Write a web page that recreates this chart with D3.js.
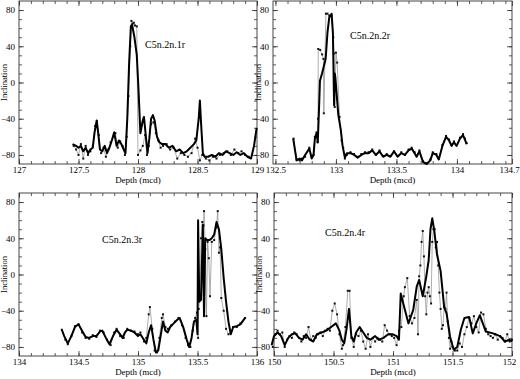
<!DOCTYPE html>
<html>
<head>
<meta charset="utf-8">
<script src="https://cdn.jsdelivr.net/npm/d3@7"></script>
<style>
  body { margin: 0; background: #fff; }
  text { font-family: "Liberation Serif", "Times New Roman", serif; fill: #000; }
</style>
</head>
<body>
<div class="chartContainer"></div>
<script>
// values: [depth (mcd), inclination]
var tlThick = [[127.45,-68],[127.48,-70],[127.50,-72],[127.52,-70],[127.54,-76],[127.56,-72],[127.58,-78],[127.60,-74],[127.62,-72],[127.635,-55],[127.653,-42],[127.665,-55],[127.68,-74],[127.70,-76],[127.72,-70],[127.74,-78],[127.76,-72],[127.78,-64],[127.80,-55],[127.82,-70],[127.84,-64],[127.86,-68],[127.88,-74],[127.895,-78],[127.91,-40],[127.925,20],[127.94,62],[127.95,64],[127.97,50],[127.99,30],[128.005,-10],[128.02,-56],[128.04,-42],[128.05,-38],[128.065,-58],[128.08,-78],[128.095,-62],[128.11,-40],[128.125,-36],[128.14,-42],[128.16,-60],[128.18,-66],[128.20,-68],[128.23,-68],[128.26,-72],[128.29,-70],[128.32,-76],[128.35,-74],[128.38,-78],[128.41,-76],[128.44,-72],[128.47,-68],[128.49,-64],[128.51,-40],[128.52,-20],[128.53,-45],[128.545,-78],[128.56,-82],[128.59,-82],[128.62,-80],[128.65,-82],[128.68,-78],[128.71,-80],[128.74,-76],[128.77,-78],[128.80,-80],[128.83,-77],[128.86,-80],[128.89,-78],[128.92,-82],[128.95,-84],[128.975,-70],[128.997,-50]];
var tlPoints = [[127.46,-70],[127.48,-74],[127.50,-80],[127.52,-68],[127.54,-84],[127.56,-70],[127.58,-80],[127.60,-76],[127.62,-70],[127.64,-48],[127.655,-43],[127.67,-58],[127.69,-78],[127.71,-72],[127.73,-82],[127.75,-74],[127.77,-66],[127.79,-60],[127.81,-56],[127.83,-72],[127.85,-65],[127.87,-70],[127.89,-80],[127.905,-60],[127.92,-15],[127.935,40],[127.945,68],[127.955,65],[127.965,66],[127.975,63],[127.99,62],[128.0,-80],[128.02,-75],[128.04,-70],[128.06,-58],[128.075,-80],[128.09,-70],[128.11,-46],[128.13,-44],[128.15,-56],[128.17,-64],[128.19,-72],[128.21,-70],[128.24,-68],[128.27,-74],[128.30,-72],[128.33,-84],[128.36,-78],[128.39,-80],[128.42,-82],[128.45,-78],[128.48,-62],[128.50,-72],[128.52,-86],[128.54,-80],[128.57,-84],[128.60,-86],[128.63,-82],[128.66,-84],[128.69,-80],[128.72,-78],[128.75,-76],[128.78,-80],[128.81,-74],[128.84,-78],[128.87,-76],[128.90,-80],[128.93,-82]];

var trThick = [[132.647,-62],[132.675,-86],[132.70,-84],[132.72,-86],[132.745,-80],[132.78,-73],[132.80,-84],[132.815,-80],[132.826,-62],[132.84,-56],[132.85,-66],[132.86,-30],[132.868,2],[132.885,10],[132.90,18],[132.915,26],[132.93,55],[132.945,72],[132.964,76],[132.975,55],[132.985,-25],[132.99,10],[132.995,6],[133.02,-36],[133.04,-52],[133.055,-70],[133.074,-83],[133.09,-78],[133.12,-78],[133.15,-80],[133.18,-83],[133.21,-80],[133.24,-78],[133.27,-78],[133.30,-75],[133.33,-80],[133.36,-76],[133.39,-82],[133.42,-80],[133.45,-82],[133.48,-76],[133.51,-82],[133.54,-78],[133.57,-80],[133.60,-75],[133.626,-73],[133.65,-78],[133.667,-82],[133.69,-76],[133.72,-88],[133.75,-90],[133.78,-86],[133.80,-78],[133.83,-80],[133.85,-85],[133.88,-70],[133.91,-60],[133.935,-64],[133.956,-70],[133.975,-66],[133.997,-70],[134.025,-62],[134.05,-58],[134.066,-63],[134.08,-68]];
var trPoints = [[132.65,-62],[132.675,-85],[132.70,-86],[132.72,-84],[132.745,-82],[132.78,-72],[132.80,-82],[132.815,-80],[132.826,-60],[132.84,-55],[132.848,-66],[132.852,-40],[132.854,37],[132.87,36],[132.886,31],[132.897,26],[132.90,-34],[132.917,76],[132.93,76],[132.945,74],[132.964,74],[132.978,50],[132.983,32],[132.99,-27],[133.0,33],[133.01,22],[133.03,-38],[133.047,-64],[133.06,-72],[133.074,-84],[133.09,-80],[133.12,-77],[133.15,-79],[133.18,-82],[133.21,-79],[133.24,-77],[133.27,-77],[133.30,-74],[133.33,-80],[133.36,-75],[133.39,-81],[133.42,-79],[133.45,-81],[133.48,-76],[133.51,-81],[133.54,-77],[133.57,-80],[133.60,-74],[133.626,-72],[133.65,-77],[133.667,-81],[133.69,-75],[133.72,-87],[133.75,-89],[133.78,-85],[133.80,-77],[133.83,-79],[133.85,-84],[133.88,-69],[133.91,-59],[133.935,-63],[133.956,-69],[133.975,-65],[133.997,-69],[134.025,-61],[134.05,-57],[134.066,-62],[134.08,-67]];

var blThick = [[134.36,-61],[134.38,-68],[134.41,-76],[134.44,-68],[134.47,-58],[134.50,-55],[134.53,-62],[134.56,-69],[134.59,-70],[134.62,-68],[134.65,-68],[134.68,-63],[134.70,-62],[134.73,-70],[134.76,-77],[134.79,-68],[134.82,-61],[134.85,-66],[134.87,-70],[134.89,-64],[134.91,-61],[134.94,-62],[134.97,-64],[135.0,-68],[135.02,-66],[135.05,-72],[135.07,-76],[135.09,-64],[135.11,-56],[135.13,-72],[135.15,-86],[135.17,-84],[135.19,-68],[135.21,-52],[135.23,-62],[135.25,-64],[135.27,-58],[135.30,-54],[135.33,-50],[135.35,-48],[135.38,-58],[135.41,-72],[135.43,-80],[135.45,-70],[135.47,-52],[135.49,-50],[135.50,-66],[135.505,60],[135.515,-30],[135.53,-28],[135.545,55],[135.555,-46],[135.565,40],[135.58,38],[135.60,38],[135.62,40],[135.64,44],[135.66,58],[135.68,50],[135.70,28],[135.72,-4],[135.74,-30],[135.76,-52],[135.78,-66],[135.80,-58],[135.83,-57],[135.86,-55],[135.90,-48]];
var blPoints = [[134.36,-61],[134.39,-72],[134.41,-77],[134.44,-68],[134.47,-57],[134.50,-55],[134.53,-64],[134.56,-70],[134.59,-71],[134.62,-67],[134.65,-69],[134.68,-62],[134.71,-64],[134.74,-72],[134.77,-78],[134.80,-64],[134.82,-60],[134.85,-68],[134.88,-70],[134.91,-60],[134.94,-62],[134.97,-63],[135.0,-66],[135.02,-64],[135.05,-74],[135.07,-70],[135.09,-44],[135.10,-36],[135.12,-60],[135.14,-84],[135.16,-86],[135.18,-70],[135.20,-48],[135.21,-44],[135.23,-58],[135.25,-60],[135.28,-56],[135.31,-52],[135.34,-48],[135.37,-56],[135.40,-70],[135.42,-78],[135.44,-80],[135.46,-62],[135.48,-48],[135.495,-42],[135.505,-70],[135.51,-38],[135.52,-26],[135.53,40],[135.54,58],[135.55,54],[135.555,70],[135.565,28],[135.575,-46],[135.585,36],[135.595,18],[135.605,-24],[135.62,36],[135.64,38],[135.66,52],[135.67,70],[135.68,24],[135.69,30],[135.70,-26],[135.72,-40],[135.74,-60],[135.76,-66],[135.78,-64],[135.80,-58],[135.83,-58],[135.86,-54],[135.90,-48]];

var brThick = [[149.98,-78],[150.0,-68],[150.03,-64],[150.06,-68],[150.09,-78],[150.12,-70],[150.15,-66],[150.18,-65],[150.21,-70],[150.24,-72],[150.27,-66],[150.30,-72],[150.33,-74],[150.36,-66],[150.40,-64],[150.44,-62],[150.48,-58],[150.52,-54],[150.55,-62],[150.57,-72],[150.59,-76],[150.61,-60],[150.63,-38],[150.65,-68],[150.67,-74],[150.69,-64],[150.72,-58],[150.75,-64],[150.78,-70],[150.81,-72],[150.85,-68],[150.88,-72],[150.92,-70],[150.96,-66],[151.0,-66],[151.03,-68],[151.05,-72],[151.065,-21],[151.09,-34],[151.13,-54],[151.17,-39],[151.20,-13],[151.22,-6],[151.25,-24],[151.28,-2],[151.30,16],[151.315,50],[151.33,62],[151.345,50],[151.37,22],[151.40,4],[151.43,-36],[151.45,-43],[151.48,-69],[151.51,-83],[151.54,-80],[151.57,-61],[151.60,-48],[151.64,-47],[151.67,-65],[151.70,-54],[151.73,-45],[151.78,-63],[151.84,-65],[151.90,-68],[151.94,-74],[151.98,-72],[152.0,-74]];
var brPoints = [[149.99,-80],[150.01,-66],[150.03,-62],[150.05,-66],[150.07,-64],[150.09,-80],[150.11,-72],[150.13,-68],[150.15,-70],[150.17,-64],[150.19,-66],[150.21,-70],[150.23,-74],[150.25,-68],[150.27,-70],[150.29,-58],[150.31,-72],[150.33,-68],[150.35,-70],[150.37,-66],[150.39,-64],[150.41,-68],[150.43,-62],[150.45,-60],[150.47,-62],[150.49,-40],[150.51,-32],[150.53,-44],[150.55,-66],[150.57,-82],[150.58,-78],[150.60,-58],[150.62,-18],[150.635,-18],[150.65,-70],[150.67,-80],[150.69,-66],[150.71,-68],[150.73,-62],[150.75,-74],[150.77,-82],[150.79,-66],[150.81,-80],[150.83,-70],[150.85,-74],[150.87,-70],[150.89,-72],[150.91,-74],[150.93,-56],[150.95,-62],[150.97,-66],[150.99,-68],[151.01,-70],[151.03,-78],[151.05,-62],[151.07,-58],[151.09,-24],[151.10,-14],[151.12,-4],[151.14,-46],[151.16,-54],[151.18,-48],[151.20,-28],[151.21,-66],[151.22,-2],[151.23,10],[151.24,36],[151.25,48],[151.26,20],[151.27,-24],[151.28,-44],[151.29,-20],[151.30,-14],[151.31,-24],[151.32,-32],[151.33,36],[151.34,50],[151.35,50],[151.36,30],[151.37,36],[151.38,10],[151.39,-20],[151.40,-38],[151.41,-60],[151.42,-56],[151.43,-36],[151.44,-38],[151.45,-20],[151.46,-52],[151.47,-70],[151.48,-82],[151.49,-74],[151.50,-80],[151.52,-84],[151.54,-84],[151.56,-76],[151.58,-80],[151.60,-66],[151.62,-58],[151.64,-48],[151.66,-54],[151.68,-46],[151.70,-58],[151.72,-64],[151.74,-42],[151.76,-44],[151.78,-60],[151.80,-66],[151.82,-68],[151.84,-70],[151.86,-66],[151.88,-72],[151.90,-68],[151.92,-70],[151.94,-74],[151.96,-66],[151.98,-74],[152.0,-72]];

var yTicks = [-80, -40, 0, 40, 80];
var tlXTicks = [127, 127.5, 128, 128.5, 129];
var trXTicks = [132.5, 133, 133.5, 134];
var blXTicks = [134, 134.5, 135, 135.5, 136];
var brXTicks = [150, 150.5, 151, 151.5, 152];
var chronNames = ["C5n.2n.1r", "C5n.2n.2r", "C5n.2n.3r", "C5n.2n.4r"];

var w = 520, h = 379;
var svg = d3.select(".chartContainer").append("svg")
    .attr("width", w)
    .attr("height", h);

function panel(cfg) {
    var x = d3.scaleLinear().domain(cfg.xDomain).range([cfg.left, cfg.right]);
    var y = d3.scaleLinear().domain([-90, 90]).range([cfg.bottom, cfg.top]);
    var g = svg.append("g");

    var xMinor = d3.range(Math.ceil(cfg.xDomain[0] * 10 - 1e-6), Math.floor(cfg.xDomain[1] * 10 + 1e-6) + 1).map(function (d) { return d / 10; });
    var yMinor = d3.range(-80, 90, 10);

    function ticks(axis, pos, size, vals, labels) {
        var a = axis.tickValues(vals).tickSizeInner(size).tickSizeOuter(0).tickPadding(3);
        if (!labels) a.tickFormat("");
        var s = g.append("g").attr("transform", pos).call(a);
        s.select(".domain").remove();
        s.selectAll("line").attr("stroke", "#333").attr("stroke-width", 0.8);
        s.selectAll("text").style("font-size", "9px");
        return s;
    }
    var bx = "translate(0," + cfg.bottom + ")", tx = "translate(0," + cfg.top + ")";
    var ly = "translate(" + cfg.left + ",0)", ry = "translate(" + cfg.right + ",0)";
    ticks(d3.axisBottom(x), bx, -3, xMinor, false);
    ticks(d3.axisTop(x), tx, -3, xMinor, false);
    ticks(d3.axisLeft(y), ly, -3, yMinor, false);
    ticks(d3.axisRight(y), ry, -3, yMinor, false);
    var xl = ticks(d3.axisBottom(x).tickFormat(function (d) { return cfg.xFormat ? cfg.xFormat(d) : d; }), bx, -5, cfg.xTicks, true);
    if (cfg.lastShift) {
        xl.selectAll(".tick").filter(function (d, i, n) { return i === n.length - 1; })
            .select("text").attr("dx", cfg.lastShift);
    }
    ticks(d3.axisTop(x), tx, -5, cfg.xTicks, false);
    ticks(d3.axisLeft(y).tickPadding(4), ly, -5, yTicks, true).selectAll("text").attr("x", -4);
    ticks(d3.axisRight(y), ry, -5, yTicks, false);

    g.append("rect")
        .attr("x", cfg.left).attr("y", cfg.top)
        .attr("width", cfg.right - cfg.left).attr("height", cfg.bottom - cfg.top)
        .attr("fill", "none").attr("stroke", "#333").attr("stroke-width", 0.9);

    var line = d3.line().x(function (d) { return x(d[0]); }).y(function (d) { return y(d[1]); });

    g.append("path").datum(cfg.points)
        .attr("d", line).attr("fill", "none")
        .attr("stroke", "#8a8a8a").attr("stroke-width", 0.7);
    g.selectAll(".pt").data(cfg.points).enter().append("rect")
        .attr("class", "pt")
        .attr("x", function (d) { return x(d[0]) - 1; })
        .attr("y", function (d) { return y(d[1]) - 1; })
        .attr("width", 2).attr("height", 2)
        .attr("fill", "#111");
    g.append("path").datum(cfg.thick)
        .attr("d", line).attr("fill", "none")
        .attr("stroke", "#000").attr("stroke-width", 2)
        .attr("stroke-linejoin", "round");

    g.append("text")
        .attr("x", cfg.nameX).attr("y", cfg.nameY)
        .style("font-size", "10px")
        .text(cfg.name);
    g.append("text")
        .attr("x", (cfg.left + cfg.right) / 2).attr("y", cfg.bottom + 19)
        .attr("text-anchor", "middle")
        .style("font-size", "9px")
        .text("Depth (mcd)");
    g.append("text")
        .attr("transform", "translate(" + (cfg.left - 12) + "," + ((cfg.top + cfg.bottom) / 2) + ") rotate(-90)")
        .attr("text-anchor", "middle")
        .style("font-size", "8.5px")
        .text("Inclination");
}

panel({ xDomain: [127, 129], left: 19, right: 257, top: 1, bottom: 164, xTicks: tlXTicks,
        thick: tlThick, points: tlPoints, name: chronNames[0], nameX: 145, nameY: 48 });
panel({ xDomain: [132.48, 134.455], left: 273, right: 512, top: 1, bottom: 164,
        xTicks: trXTicks.concat([134.455]), lastShift: -3,
        xFormat: function (d) { return d > 134.4 ? "134.7" : d; },
        thick: trThick, points: trPoints, name: chronNames[1], nameX: 350, nameY: 39 });
panel({ xDomain: [134, 136], left: 19, right: 257, top: 193, bottom: 356, xTicks: blXTicks,
        thick: blThick, points: blPoints, name: chronNames[2], nameX: 102, nameY: 243 });
panel({ xDomain: [150, 152], left: 274, right: 512, top: 193, bottom: 356, xTicks: brXTicks,
        lastShift: -3,
        thick: brThick, points: brPoints, name: chronNames[3], nameX: 325, nameY: 236 });
</script>
</body>
</html>
